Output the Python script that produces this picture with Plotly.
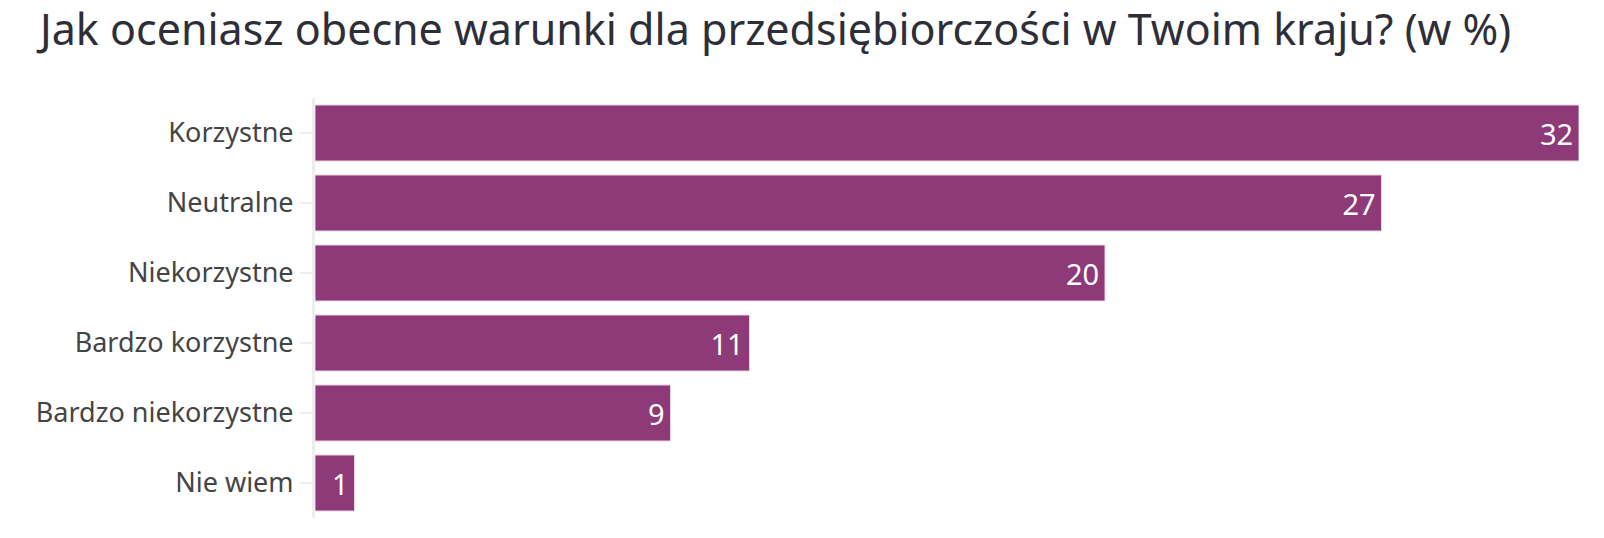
import plotly.graph_objects as go

categories = ["Korzystne", "Neutralne", "Niekorzystne", "Bardzo korzystne", "Bardzo niekorzystne", "Nie wiem"]
values = [32, 27, 20, 11, 9, 1]
title_text = "Jak oceniasz obecne warunki dla przedsiębiorczości w Twoim kraju? (w %)"

BAR = "#8E3A78"
FONT = "Noto Sans"

fig = go.Figure(go.Bar(
    y=categories,
    x=values,
    orientation="h",
    marker=dict(color=BAR, line=dict(color="#E9D3E3", width=1)),
    text=[str(v) + "\u200a" for v in values],
    textposition="inside",
    insidetextanchor="end",
    textfont=dict(color="white", size=29, family=FONT),
    cliponaxis=False,
))

fig.update_layout(
    width=1604, height=538,
    margin=dict(l=315, r=25, t=98, b=20),
    plot_bgcolor="white", paper_bgcolor="white",
    bargap=0.2,
    showlegend=False,
    title=dict(text=title_text, x=40/1604, xanchor="left", xref="container",
               y=1-30/538, yanchor="middle", yref="container",
               font=dict(family=FONT, size=43, color="#2E2E38")),
    font=dict(family=FONT),
)
fig.update_xaxes(range=[0, 32], visible=False, showgrid=False, zeroline=False)
fig.update_yaxes(
    autorange="reversed",
    showline=True, linecolor="#EEEEEE", linewidth=3,
    ticks="outside", ticklen=12, tickcolor="#EEEEEE", tickwidth=2,
    ticklabelstandoff=1,
    tickfont=dict(family=FONT, size=27, color="#444444"),
    showgrid=False, zeroline=False,
)
fig.write_html("out.html")
